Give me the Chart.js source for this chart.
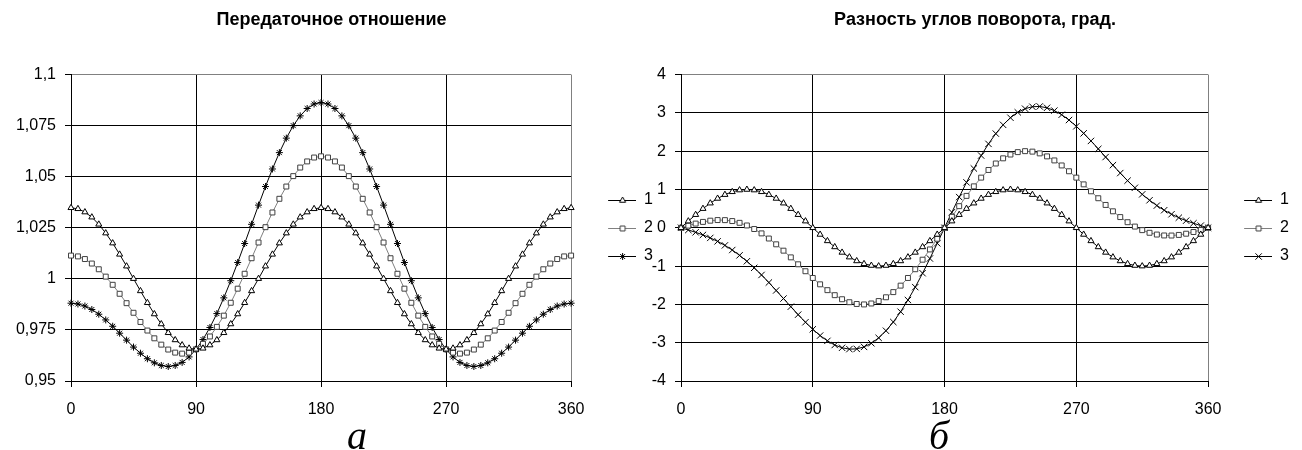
<!DOCTYPE html>
<html lang="ru">
<head>
<meta charset="utf-8">
<title>Передаточное отношение и разность углов поворота</title>
<script src="https://cdn.jsdelivr.net/npm/chart.js@4.4.1/dist/chart.umd.min.js"></script>
<style>
  html, body { margin: 0; padding: 0; background: #fff; overflow: hidden; }
  #wrap { position: relative; width: 1302px; height: 450px; }
  canvas { position: absolute; top: 0; }
  #ratioChart { left: 0; }
  #diffChart { left: 651px; }
  .fig {
    position: absolute; top: 416px;
    font: italic 40px "Liberation Serif", "Times New Roman", serif;
    line-height: 40px; transform: translateX(-50%);
  }
  #figA { left: 357px; }
  #figB { left: 939px; }
</style>
</head>
<body>
<div id="wrap">
  <canvas id="ratioChart" width="663" height="450"></canvas>
  <canvas id="diffChart" width="648" height="450"></canvas>
  <span class="fig" id="figA">а</span>
  <span class="fig" id="figB">б</span>
</div>

<script>
// ============================
// DATA (every 5 degrees)
// ============================
const angles = [
  0, 5, 10, 15, 20, 25, 30, 35, 40, 45, 50, 55, 60, 65, 70, 75, 80, 85,
  90, 95, 100, 105, 110, 115, 120, 125, 130, 135, 140, 145, 150, 155, 160, 165, 170, 175,
  180, 185, 190, 195, 200, 205, 210, 215, 220, 225, 230, 235, 240, 245, 250, 255, 260, 265,
  270, 275, 280, 285, 290, 295, 300, 305, 310, 315, 320, 325, 330, 335, 340, 345, 350, 355,
  360
];

// "Передаточное отношение"
const ratio1 = [
  1.0348, 1.0343, 1.0327, 1.0302, 1.0267, 1.0224, 1.0175, 1.0120, 1.0062, 1.0001, 0.9941, 0.9883,
  0.9828, 0.9779, 0.9736, 0.9701, 0.9676, 0.9660, 0.9655, 0.9660, 0.9676, 0.9701, 0.9736, 0.9779,
  0.9828, 0.9883, 0.9941, 1.0001, 1.0062, 1.0120, 1.0175, 1.0224, 1.0267, 1.0302, 1.0327, 1.0343,
  1.0348, 1.0343, 1.0327, 1.0302, 1.0267, 1.0224, 1.0175, 1.0120, 1.0062, 1.0001, 0.9941, 0.9883,
  0.9828, 0.9779, 0.9736, 0.9701, 0.9676, 0.9660, 0.9655, 0.9660, 0.9676, 0.9701, 0.9736, 0.9779,
  0.9828, 0.9883, 0.9941, 1.0001, 1.0062, 1.0120, 1.0175, 1.0224, 1.0267, 1.0302, 1.0327, 1.0343,
  1.0348
];
const ratio2 = [
  1.0114, 1.0110, 1.0097, 1.0075, 1.0047, 1.0011, 0.9971, 0.9927, 0.9881, 0.9834, 0.9789, 0.9747,
  0.9709, 0.9678, 0.9654, 0.9639, 0.9634, 0.9639, 0.9655, 0.9682, 0.9718, 0.9765, 0.9820, 0.9883,
  0.9952, 1.0025, 1.0101, 1.0178, 1.0253, 1.0325, 1.0392, 1.0452, 1.0503, 1.0545, 1.0575, 1.0594,
  1.0600, 1.0594, 1.0575, 1.0545, 1.0503, 1.0452, 1.0392, 1.0325, 1.0253, 1.0178, 1.0101, 1.0025,
  0.9952, 0.9883, 0.9820, 0.9765, 0.9718, 0.9682, 0.9655, 0.9639, 0.9634, 0.9639, 0.9654, 0.9678,
  0.9709, 0.9747, 0.9789, 0.9834, 0.9881, 0.9927, 0.9971, 1.0011, 1.0047, 1.0075, 1.0097, 1.0110,
  1.0114
];
const ratio3 = [
  0.9881, 0.9877, 0.9867, 0.9850, 0.9827, 0.9799, 0.9768, 0.9734, 0.9700, 0.9666, 0.9636, 0.9609,
  0.9589, 0.9576, 0.9571, 0.9576, 0.9591, 0.9618, 0.9655, 0.9703, 0.9762, 0.9830, 0.9907, 0.9991,
  1.0080, 1.0173, 1.0267, 1.0361, 1.0452, 1.0538, 1.0618, 1.0689, 1.0750, 1.0798, 1.0834, 1.0856,
  1.0863, 1.0856, 1.0834, 1.0798, 1.0750, 1.0689, 1.0618, 1.0538, 1.0452, 1.0361, 1.0267, 1.0173,
  1.0080, 0.9991, 0.9907, 0.9830, 0.9762, 0.9703, 0.9655, 0.9618, 0.9591, 0.9576, 0.9571, 0.9576,
  0.9589, 0.9609, 0.9636, 0.9666, 0.9700, 0.9734, 0.9768, 0.9799, 0.9827, 0.9850, 0.9867, 0.9877,
  0.9881
];

// "Разность углов поворота, град."
const diff1 = [
  0, 0.174, 0.342, 0.5, 0.643, 0.766, 0.866, 0.94, 0.985, 1, 0.985, 0.94,
  0.866, 0.766, 0.643, 0.5, 0.342, 0.174, 0, -0.174, -0.342, -0.5, -0.643, -0.766,
  -0.866, -0.94, -0.985, -1, -0.985, -0.94, -0.866, -0.766, -0.643, -0.5, -0.342, -0.174,
  0, 0.174, 0.342, 0.5, 0.643, 0.766, 0.866, 0.94, 0.985, 1, 0.985, 0.94,
  0.866, 0.766, 0.643, 0.5, 0.342, 0.174, 0, -0.174, -0.342, -0.5, -0.643, -0.766,
  -0.866, -0.94, -0.985, -1, -0.985, -0.94, -0.866, -0.766, -0.643, -0.5, -0.342, -0.174,
  0
];
const diff2 = [
  0, 0.057, 0.110, 0.154, 0.186, 0.202, 0.200, 0.176, 0.130, 0.061, -0.032, -0.146,
  -0.280, -0.431, -0.597, -0.772, -0.953, -1.134, -1.310, -1.476, -1.628, -1.759, -1.865, -1.943,
  -1.989, -2.001, -1.976, -1.913, -1.814, -1.679, -1.510, -1.310, -1.082, -0.833, -0.565, -0.286,
  0, 0.286, 0.565, 0.833, 1.082, 1.310, 1.510, 1.679, 1.814, 1.913, 1.976, 2.001,
  1.989, 1.943, 1.865, 1.759, 1.628, 1.476, 1.310, 1.134, 0.953, 0.772, 0.597, 0.431,
  0.280, 0.146, 0.032, -0.061, -0.130, -0.176, -0.200, -0.202, -0.186, -0.154, -0.110, -0.057,
  0
];
const diff3 = [
  0, -0.057, -0.118, -0.186, -0.264, -0.354, -0.459, -0.580, -0.719, -0.874, -1.045, -1.231,
  -1.429, -1.636, -1.847, -2.060, -2.268, -2.466, -2.650, -2.814, -2.952, -3.060, -3.133, -3.168,
  -3.161, -3.110, -3.015, -2.874, -2.688, -2.460, -2.191, -1.886, -1.549, -1.186, -0.802, -0.405,
  0, 0.405, 0.802, 1.186, 1.549, 1.886, 2.191, 2.460, 2.688, 2.874, 3.015, 3.110,
  3.161, 3.168, 3.133, 3.060, 2.952, 2.814, 2.650, 2.466, 2.268, 2.060, 1.847, 1.636,
  1.429, 1.231, 1.045, 0.874, 0.719, 0.580, 0.459, 0.354, 0.264, 0.186, 0.118, 0.057,
  0
];

const seriesNames = ["1", "2", "3"];

// ============================
// SHARED STYLE
// ============================
const sans = '"Liberation Sans", Arial, sans-serif';
const tickFont = { family: sans, size: 16 };
const titleFont = { family: sans, size: 18, weight: "bold" };
const gridBlack = "#000";
const frameGrey = "#808080";

function points(values) {
  return angles.map((a, i) => ({ x: a, y: values[i] }));
}

// small line + marker picture for each legend entry
function legendIcon(width, lineFrom, lineColor, style, markerColor, radius) {
  const c = document.createElement("canvas");
  c.width = width;
  c.height = 12;
  const g = c.getContext("2d");
  g.lineWidth = 1;
  g.strokeStyle = lineColor;
  g.beginPath();
  g.moveTo(lineFrom, 6.5);
  g.lineTo(width, 6.5);
  g.stroke();
  g.fillStyle = "#fff";
  g.strokeStyle = markerColor;
  Chart.helpers.drawPoint(g, { pointStyle: style, radius: radius, borderWidth: 1 }, Math.round((lineFrom + width) / 2) + 0.5, 6.5);
  return c;
}

function lineSet(label, values, lineColor, style, markerColor, radius) {
  return {
    label: label,
    data: points(values),
    borderColor: lineColor,
    borderWidth: 1,
    pointStyle: style,
    pointRadius: radius,
    pointBackgroundColor: "#fff",
    pointBorderColor: markerColor,
    pointBorderWidth: 1,
    tension: 0,
    clip: false
  };
}

function makeOptions(title, yMin, yMax, yStep, yLabel, yWidth, icons, iconWidth) {
  const isEdge = (v, edge) => Math.abs(v - edge) < 1e-9;
  return {
    responsive: false,
    animation: false,
    events: [],
    layout: { padding: { top: 6 } },
    plugins: {
      tooltip: { enabled: false },
      title: {
        display: true,
        text: title,
        color: "#000",
        font: titleFont,
        padding: { top: 3, bottom: 44 }
      },
      legend: {
        position: "right",
        labels: {
          usePointStyle: true,
          pointStyleWidth: iconWidth,
          boxHeight: 16,
          padding: 12,
          color: "#000",
          font: tickFont,
          generateLabels: chart =>
            Chart.defaults.plugins.legend.labels.generateLabels(chart)
              .map((item, i) => Object.assign(item, { pointStyle: icons[i] }))
        }
      }
    },
    scales: {
      x: {
        type: "linear",
        min: 0,
        max: 360,
        ticks: { stepSize: 90, color: "#000", font: tickFont, padding: 13, maxRotation: 0 },
        grid: {
          color: c => (c.tick && isEdge(c.tick.value, 360)) ? frameGrey : gridBlack,
          tickColor: gridBlack,
          tickLength: 6
        },
        border: { color: "#000" },
        afterFit: s => { s.height = 69; }
      },
      y: {
        min: yMin,
        max: yMax,
        ticks: { stepSize: yStep, color: "#000", font: tickFont, padding: 9, callback: yLabel },
        grid: {
          color: c => (c.tick && isEdge(c.tick.value, yMax)) ? frameGrey : gridBlack,
          tickColor: gridBlack,
          tickLength: 6
        },
        border: { color: "#000" },
        afterFit: s => { s.width = yWidth; }
      }
    }
  };
}

document.addEventListener("DOMContentLoaded", () => {

  // ============================
  // LEFT: ПЕРЕДАТОЧНОЕ ОТНОШЕНИЕ
  // ============================
  const ratioIcons = [
    legendIcon(53, 25, "#000", "triangle", "#000", 3.5),
    legendIcon(53, 25, frameGrey, "rect", "#404040", 3.5),
    legendIcon(53, 25, "#000", "star", "#000", 3.5)
  ];

  new Chart(document.getElementById("ratioChart"), {
    type: "line",
    data: {
      datasets: [
        lineSet(seriesNames[0], ratio1, "#000", "triangle", "#000", 3.5),
        lineSet(seriesNames[1], ratio2, frameGrey, "rect", "#404040", 3.5),
        lineSet(seriesNames[2], ratio3, "#000", "star", "#000", 3.5)
      ]
    },
    options: makeOptions(
      "Передаточное отношение", 0.95, 1.1, 0.025,
      v => String(Math.round(v * 1000) / 1000).replace(".", ","),
      71, ratioIcons, 53
    )
  });

  // ============================
  // RIGHT: РАЗНОСТЬ УГЛОВ ПОВОРОТА
  // ============================
  const diffIcons = [
    legendIcon(52, 24, "#000", "triangle", "#000", 3.5),
    legendIcon(52, 24, frameGrey, "rect", "#404040", 3.5),
    legendIcon(52, 24, "#000", "crossRot", "#000", 4.5)
  ];

  new Chart(document.getElementById("diffChart"), {
    type: "line",
    data: {
      datasets: [
        lineSet(seriesNames[0], diff1, "#000", "triangle", "#000", 3.5),
        lineSet(seriesNames[1], diff2, frameGrey, "rect", "#404040", 3.5),
        lineSet(seriesNames[2], diff3, "#000", "crossRot", "#000", 4.5)
      ]
    },
    options: makeOptions(
      "Разность углов поворота, град.", -4, 4, 1,
      v => String(Math.round(v)),
      30, diffIcons, 52
    )
  });

});
</script>
</body>
</html>
